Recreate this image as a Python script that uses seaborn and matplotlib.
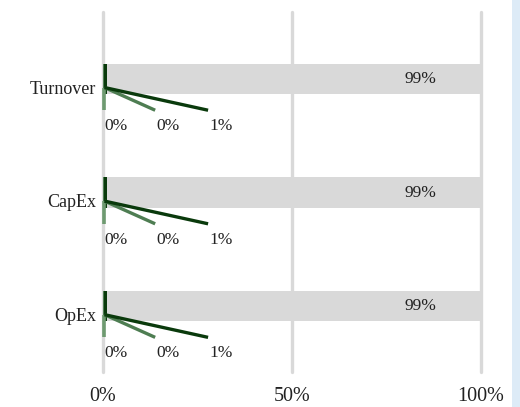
import matplotlib
matplotlib.use("Agg")
import matplotlib.pyplot as plt
import matplotlib.transforms as mtransforms
import seaborn as sns
import pandas as pd
import numpy as np
from matplotlib.patches import Rectangle

categories = ["Turnover", "CapEx", "OpEx"]
seg_a = [0.1, 0.1, 0.1]      # label 0%
seg_b = [0.2, 0.2, 0.2]      # label 0%
seg_c = [0.7, 0.7, 0.7]      # label 1%
seg_d = [99.0, 99.0, 99.0]   # label 99%
labels_a = ["0%", "0%", "0%"]
labels_b = ["0%", "0%", "0%"]
labels_c = ["1%", "1%", "1%"]
labels_d = ["99%", "99%", "99%"]
x_ticks = [0, 50, 100]
x_ticklabels = ["0%", "50%", "100%"]

col_a = "#6E9A70"
col_b = "#4E7D52"
col_c = "#0A3A0C"
col_d = "#D9D9D9"

sns.set_theme(style="white")
plt.rcParams["font.family"] = ["Liberation Serif", "DejaVu Serif"]

fig = plt.figure(figsize=(5.2, 4.07), dpi=100)
ax = fig.add_axes([103/520, 1 - 372/407, (481-103)/520, (372-12)/407])

df = pd.DataFrame({"cat": categories, "a": seg_a, "b": seg_b, "c": seg_c, "d": seg_d})
df["cum_a"] = df["a"]
df["cum_b"] = df["cum_a"] + df["b"]
df["cum_c"] = df["cum_b"] + df["c"]
df["cum_d"] = df["cum_c"] + df["d"]

bw = 0.27
for col, color in [("cum_d", col_d), ("cum_c", col_c), ("cum_b", col_b), ("cum_a", col_a)]:
    sns.barplot(data=df, x=col, y="cat", orient="h", color=color, width=bw,
                saturation=1, ax=ax, linewidth=0, zorder=3)

for i in range(len(categories)):
    ax.text(84, i, labels_d[i], ha="center", va="center", fontsize=12.5, color="#222222", zorder=5)
    oy = i + 0.075
    ey = i + 0.275
    ax.plot([0.3, 0.3], [oy, ey], color=col_a, lw=2.6, solid_capstyle="butt", zorder=4, clip_on=False)
    ax.plot([0.4, 13.8], [oy, ey], color=col_b, lw=2.4, solid_capstyle="butt", zorder=4, clip_on=False)
    ax.plot([0.4, 27.8], [oy, ey], color=col_c, lw=2.4, solid_capstyle="butt", zorder=4, clip_on=False)
    for ex, lab in [(0.0, labels_a[i]), (13.8, labels_b[i]), (27.8, labels_c[i])]:
        ax.text(ex + 0.3, i + 0.415, lab, ha="left", va="center", fontsize=12.5, color="#222222", zorder=5)

ax.set_xlim(0, 100)
ax.set_ylim(2.58, -0.59)
for x in x_ticks:
    ax.axvline(x, color="#D9D9D9", lw=2.4, zorder=1, clip_on=False)
for s in ax.spines.values():
    s.set_visible(False)
ax.set_xticks(x_ticks)
ax.set_xticklabels(x_ticklabels, fontsize=14.5, color="#222222")
ax.tick_params(axis="x", length=0, pad=11)
ax.tick_params(axis="y", length=0, pad=5, labelsize=13, labelcolor="#222222")
ax.set_xlabel("")
ax.set_ylabel("")
ax.grid(False)

offset = mtransforms.ScaledTranslation(0, -8/100, fig.dpi_scale_trans)
for lab in ax.get_yticklabels():
    lab.set_transform(lab.get_transform() + offset)

fig.patches.append(Rectangle((512/520, 0), 8/520, 1, transform=fig.transFigure,
                             facecolor="#DDEBF7", edgecolor="none", zorder=0))

fig.savefig("out.png", dpi=100, facecolor="white")
